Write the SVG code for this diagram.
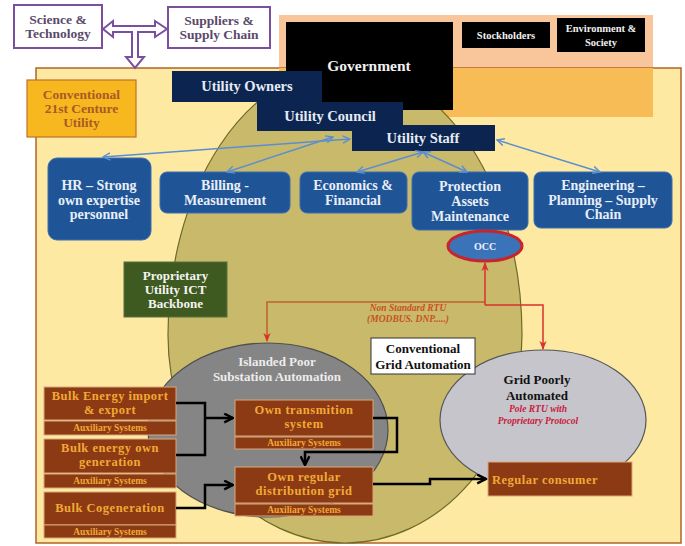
<svg xmlns="http://www.w3.org/2000/svg" width="685" height="546" viewBox="0 0 685 546">
<style>
text{font-family:"Liberation Serif","Times New Roman",serif;font-weight:bold;text-anchor:middle}
.navy{fill:#0c2550}
.navyt{fill:#e6ebf5;font-size:14.5px}
.blk{fill:#000}
.blue{fill:#1f5596;stroke:#3b6fb2;stroke-width:1}
.bluet{fill:#e8eef8;font-size:14px}
.brown{fill:#8b3a14;stroke:#dba77a;stroke-width:1}
.brt{fill:#f2a935;font-size:12.5px;letter-spacing:0.5px}
.aux{fill:#f2a935;font-size:9.5px}
.blc{fill:none;stroke:#5b8ed0;stroke-width:1.5}
.bk{fill:none;stroke:#000;stroke-width:2.5}
.purp{fill:#fff;stroke:#7a4f9f;stroke-width:2}
</style>
<defs>
<marker id="ab" viewBox="0 0 10 10" refX="9" refY="5" markerWidth="9" markerHeight="9" markerUnits="userSpaceOnUse" orient="auto-start-reverse"><path d="M1,1 L9,5 L1,9" fill="none" stroke="#5b8ed0" stroke-width="1.6"/></marker>
<marker id="ar" viewBox="0 0 10 10" refX="9" refY="5" markerWidth="9" markerHeight="9" markerUnits="userSpaceOnUse" orient="auto"><path d="M0,1 L10,5 L0,9 L3,5 Z" fill="#d8302c"/></marker>
<marker id="ak" viewBox="0 0 10 10" refX="9" refY="5" markerWidth="11" markerHeight="11" markerUnits="userSpaceOnUse" orient="auto"><path d="M1,1 L9,5 L1,9" fill="none" stroke="#000" stroke-width="2.2"/></marker>
</defs>

<g id="backgrounds">
<rect x="279" y="15" width="374" height="102" fill="#f9c59b"/>
<rect x="36" y="68" width="645" height="475" fill="#fde9a2" stroke="#b0642a" stroke-width="1.5"/>
<rect x="279" y="68" width="374" height="49" fill="#f7bc55"/>
<path id="olive" d="M168,335 A177,268 0 0 1 522,335 A177,208 0 0 1 168,335 Z" fill="#c9b96b" stroke="#6e6a2a" stroke-width="1.2"/>
</g>

<g id="government"><rect x="286" y="22" width="167" height="88" class="blk"/><text x="369" y="71" fill="#f0f0f0" font-size="15.5">Government</text></g>
<g id="stockholders"><rect x="462" y="22" width="88" height="26" class="blk"/><text x="506" y="39" fill="#f0f0f0" font-size="10.5">Stockholders</text></g>
<g id="environment"><rect x="557" y="18" width="88" height="34" class="blk"/><text x="601" y="32" fill="#f0f0f0" font-size="10.5">Environment &amp;</text><text x="601" y="46" fill="#f0f0f0" font-size="10.5">Society</text></g>

<g id="utility-owners"><rect x="172" y="71" width="150" height="31" class="navy"/><text x="247" y="91" class="navyt">Utility Owners</text></g>
<g id="utility-council"><rect x="257" y="102" width="146" height="29" class="navy"/><text x="330" y="121" class="navyt">Utility Council</text></g>
<g id="utility-staff"><rect x="352" y="125" width="143" height="26" class="navy"/><text x="423" y="143" class="navyt">Utility Staff</text></g>

<g id="hr"><rect x="48" y="158" width="103" height="82" rx="9" class="blue"/><text x="99" y="190" class="bluet">HR – Strong</text><text x="99" y="205" class="bluet">own expertise</text><text x="99" y="219" class="bluet">personnel</text></g>
<g id="billing"><rect x="160" y="172" width="130" height="41" rx="7" class="blue"/><text x="225" y="190" class="bluet">Billing -</text><text x="225" y="205" class="bluet">Measurement</text></g>
<g id="economics"><rect x="300" y="172" width="107" height="41" rx="7" class="blue"/><text x="353" y="190" class="bluet">Economics &amp;</text><text x="353" y="205" class="bluet">Financial</text></g>
<g id="protection"><rect x="412" y="172" width="116" height="58" rx="7" class="blue"/><text x="470" y="191" class="bluet">Protection</text><text x="470" y="206" class="bluet">Assets</text><text x="470" y="221" class="bluet">Maintenance</text></g>
<g id="engineering"><rect x="534" y="172" width="138" height="56" rx="7" class="blue"/><text x="603" y="190" class="bluet">Engineering –</text><text x="603" y="205" class="bluet">Planning – Supply</text><text x="603" y="219" class="bluet">Chain</text></g>

<g id="occ"><ellipse cx="485" cy="246" rx="37" ry="15" fill="#3b73b9" stroke="#c8242c" stroke-width="3"/><text x="485" y="250" fill="#eef2fa" font-size="10" font-family="Liberation Sans,Arial,sans-serif">OCC</text></g>

<g id="ict-backbone"><rect x="124" y="262" width="103" height="55" fill="#3e5a21" stroke="#56703a" stroke-width="1"/><text x="175.5" y="280" fill="#f4f4f0" font-size="13">Proprietary</text><text x="175.5" y="294" fill="#f4f4f0" font-size="13">Utility  ICT</text><text x="175.5" y="308" fill="#f4f4f0" font-size="13">Backbone</text></g>

<g id="islanded"><ellipse cx="268" cy="430" rx="120" ry="87" fill="#858585" stroke="#4f4f4f" stroke-width="1.2"/><text x="277" y="366" fill="#ececec" font-size="13">Islanded Poor</text><text x="277" y="381" fill="#ececec" font-size="13">Substation Automation</text></g>

<g id="grid-poorly"><ellipse cx="543" cy="420" rx="103" ry="70" fill="#c5c5cb" stroke="#555" stroke-width="1.2"/><text x="537" y="384" fill="#111" font-size="13">Grid Poorly</text><text x="537" y="400" fill="#111" font-size="13">Automated</text><text x="538" y="412" fill="#c8203c" font-size="9.5" font-style="italic">Pole RTU with</text><text x="538" y="424" fill="#c8203c" font-size="9.5" font-style="italic">Proprietary Protocol</text></g>

<g id="conventional-grid"><rect x="371" y="338" width="104" height="36" fill="#fff" stroke="#333" stroke-width="1"/><text x="423" y="353" fill="#111" font-size="13">Conventional</text><text x="423" y="369" fill="#111" font-size="13">Grid Automation</text></g>

<g id="bulk-import"><rect x="44" y="387" width="132" height="33" class="brown"/><rect x="44" y="421" width="132" height="14" class="brown"/><text x="110" y="400" class="brt">Bulk Energy import</text><text x="110" y="414" class="brt">&amp; export</text><text x="110" y="431" class="aux">Auxiliary Systems</text></g>
<g id="bulk-own"><rect x="44" y="439" width="132" height="34" class="brown"/><rect x="44" y="474" width="132" height="14" class="brown"/><text x="110" y="452" class="brt">Bulk energy own</text><text x="110" y="466" class="brt">generation</text><text x="110" y="484" class="aux">Auxiliary Systems</text></g>
<g id="bulk-cogen"><rect x="44" y="492" width="132" height="33" class="brown"/><rect x="44" y="525" width="132" height="13" class="brown"/><text x="110" y="512" class="brt">Bulk Cogeneration</text><text x="110" y="535" class="aux">Auxiliary Systems</text></g>
<g id="own-transmission"><rect x="235" y="400" width="138" height="36" class="brown"/><rect x="235" y="437" width="138" height="12" class="brown"/><text x="304" y="414" class="brt">Own transmition</text><text x="304" y="428" class="brt">system</text><text x="304" y="446" class="aux">Auxiliary Systems</text></g>
<g id="own-distribution"><rect x="235" y="467" width="138" height="36" class="brown"/><rect x="235" y="504" width="138" height="12" class="brown"/><text x="304" y="481" class="brt">Own regular</text><text x="304" y="495" class="brt">distribution  grid</text><text x="304" y="513" class="aux">Auxiliary Systems</text></g>
<g id="regular-consumer"><rect x="488" y="462" width="144" height="34" class="brown"/><text x="492" y="484" class="brt" style="text-anchor:start">Regular consumer</text></g>

<g id="conventional-utility"><rect x="27" y="80" width="109" height="57" fill="#f6b81e" stroke="#c0702a" stroke-width="1.2"/><text x="81.5" y="99" fill="#a85a28" font-size="13.5">Conventional</text><text x="81.5" y="113" fill="#a85a28" font-size="13.5">21st Centure</text><text x="81.5" y="127" fill="#a85a28" font-size="13.5">Utility</text></g>

<g id="science"><rect x="14" y="5" width="88" height="43" class="purp"/><text x="58" y="24" fill="#5a4a6a" font-size="13.5">Science &amp;</text><text x="58" y="38" fill="#5a4a6a" font-size="13.5">Technology</text></g>
<g id="suppliers"><rect x="168" y="7" width="102" height="41" class="purp"/><text x="219" y="25" fill="#5a4a6a" font-size="13.5">Suppliers &amp;</text><text x="219" y="39" fill="#5a4a6a" font-size="13.5">Supply Chain</text></g>

<g id="connectors">
<polygon class="purp" points="103,29 113,21 113,26 155,26 155,21 167,29 155,37 155,32 138,32 138,57 144,57 135,68 126,57 132,57 132,32 113,32 113,37"/>
<line class="blc" x1="103" y1="157" x2="350" y2="139" marker-start="url(#ab)" marker-end="url(#ab)"/>
<line class="blc" x1="227" y1="172" x2="333" y2="137" marker-start="url(#ab)" marker-end="url(#ab)"/>
<line class="blc" x1="357" y1="172" x2="423" y2="152" marker-start="url(#ab)" marker-end="url(#ab)"/>
<line class="blc" x1="467" y1="172" x2="423" y2="152" marker-start="url(#ab)" marker-end="url(#ab)"/>
<line class="blc" x1="497" y1="140" x2="600" y2="172" marker-start="url(#ab)" marker-end="url(#ab)"/>
<path d="M485,302 H267 V341" fill="none" stroke="#c0602e" stroke-width="1.5" marker-end="url(#ar)"/>
<path d="M485,305 V263" fill="none" stroke="#d8302c" stroke-width="1.5" marker-end="url(#ar)"/>
<path d="M485,305 H543 V349" fill="none" stroke="#d8302c" stroke-width="1.5" marker-end="url(#ar)"/>
<path class="bk" d="M176,403 H205 V455 H176"/>
<path class="bk" d="M205,418 H233" marker-end="url(#ak)"/>
<path class="bk" d="M373,418 H397 V452 H305 V465" marker-end="url(#ak)"/>
<path class="bk" d="M176,508 H205 V485 H233" marker-end="url(#ak)"/>
<path class="bk" d="M373,484 H430 V479 H486" marker-end="url(#ak)"/>
</g>
<text x="408" y="311" fill="#c8521e" font-size="9.5" font-style="italic">Non Standard RTU</text>
<text x="408" y="322" fill="#c8521e" font-size="9.5" font-style="italic">(MODBUS. DNP.....)</text>
</svg>
